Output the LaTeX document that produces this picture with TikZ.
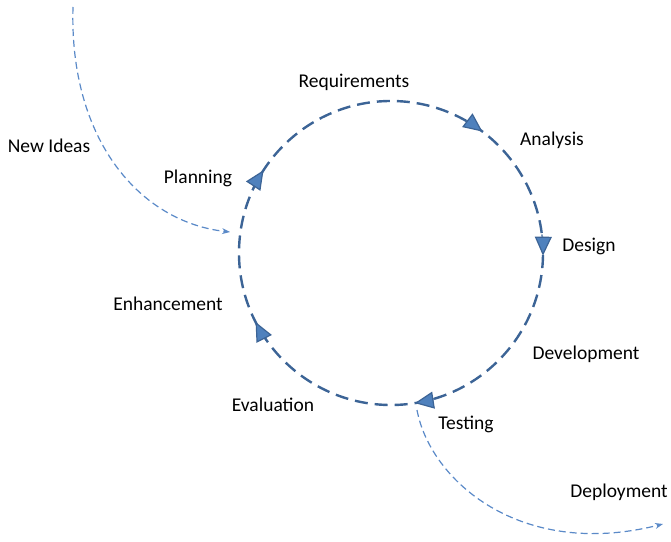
\documentclass[tikz,border=0pt]{standalone}
\usepackage{fontspec}
\setmainfont{Carlito}
\usetikzlibrary{arrows.meta}
\definecolor{ringblue}{HTML}{3C6496}
\definecolor{tipfill}{HTML}{4F81BD}
\definecolor{flowblue}{HTML}{5B8AC8}
\begin{document}
\begin{tikzpicture}[x=1pt,y=1pt,inner sep=0pt,outer sep=0pt,
phase/.style={font=\fontsize{19.5}{22}\selectfont,anchor=base},
ring/.style={draw=ringblue,line width=2.4pt,dash pattern=on 13pt off 7pt},
ringtip/.style={draw=ringblue,line width=1.2pt,-{Triangle[length=19pt,width=17pt,fill=tipfill]}},
flow/.style={draw=flowblue,line width=1.2pt,dash pattern=on 7pt off 4pt,-{Stealth[length=8pt,width=6pt]}}]
\useasboundingbox (0,0) rectangle (671,541);
\coordinate (C) at (391,288);
\draw[ring] (C) circle[radius=152];
\foreach \a [evaluate=\a as \b using \a+8] in {53,-1,-81,-153,147}
  \draw[ringtip] ([shift={(\b:152)}]C) arc[start angle=\b,end angle=\a,radius=152];
\node[phase] (req) at (354,453) {Requirements};
\node[phase] (ana) at (552,395) {Analysis};
\node[phase] (des) at (589,289) {Design};
\node[phase] (dev) at (586,182) {Development};
\node[phase] (tst) at (466,112) {Testing};
\node[phase] (eva) at (273,130) {Evaluation};
\node[phase] (enh) at (168,230) {Enhancement};
\node[phase] (pla) at (198,357) {Planning};
\node[phase] (ide) at (49,388) {New Ideas};
\node[phase] (dep) at (619,44) {Deployment};
\coordinate (ideastart) at (73,534);
\coordinate (ideaend) at (230,309);
\coordinate (depstart) at (417,131);
\coordinate (depend) at (663,17);
\draw[flow] (ideastart) .. controls (69,401) and (140,319) .. (ideaend);
\draw[flow] (depstart) .. controls (430,61) and (520,-19) .. (depend);
\end{tikzpicture}
\end{document}
